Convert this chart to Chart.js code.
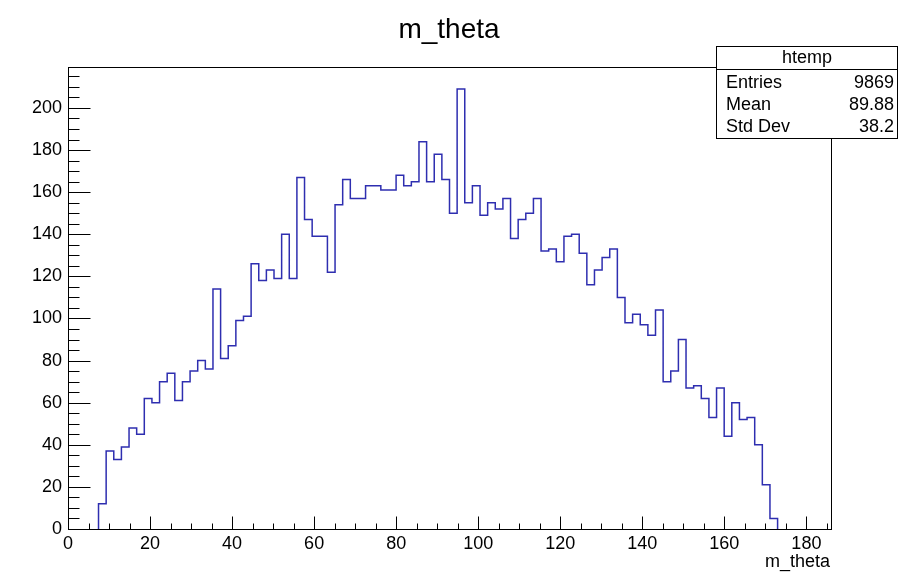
<!DOCTYPE html>
<html>
<head>
<meta charset="utf-8">
<script src="https://cdn.jsdelivr.net/npm/chart.js@4.4.1/dist/chart.umd.min.js"></script>
<style>
  html, body { margin: 0; padding: 0; background: #fff; }
  #wrap { width: 916px; height: 584px; }
</style>
</head>
<body>
<div id="wrap"><canvas id="c" width="916" height="584"></canvas></div>
<script>
// histogram: 100 bins from xMin to xMax
const histName = 'htemp';
const varName = 'm_theta';
const xMin = 0;
const xMax = 186;
const yMax = 219.45;
const counts = [
    0,   0,   0,   0,  12,  37,  33,  39,  48,  45,
   62,  60,  70,  74,  61,  70,  75,  80,  76, 114,
   81,  87,  99, 101, 126, 118, 123, 119, 140, 119,
  167, 147, 139, 139, 122, 154, 166, 157, 157, 163,
  163, 161, 161, 168, 163, 165, 184, 165, 178, 166,
  150, 209, 155, 163, 149, 155, 152, 157, 138, 147,
  150, 157, 132, 133, 127, 139, 140, 131, 116, 123,
  129, 133, 110,  98, 102,  97,  92, 104,  70,  75,
   90,  67,  68,  62,  53,  67,  44,  60,  52,  53,
   40,  21,   5,   0,   0,   0,   0,   0,   0,   0
];
const xTickStep = 20;
const yTickStep = 20;
const minorStep = 5;
const statLabels = ['Entries', 'Mean', 'Std Dev'];
const statValues = ['9869', '89.88', '38.2'];

const FONT = '"Liberation Sans", Arial, Helvetica, sans-serif';
Chart.defaults.font.family = FONT;
Chart.defaults.color = '#000';

// outline points: bin i covers [edge i, edge i+1] at counts[i]
const binWidth = (xMax - xMin) / counts.length;
const first = counts.findIndex(c => c > 0);
let last = counts.length - 1;
while (counts[last] === 0) last--;
const points = [{ x: xMin + first * binWidth, y: 0 }];
for (let i = first; i <= last; i++) points.push({ x: xMin + i * binWidth, y: counts[i] });
points.push({ x: xMin + (last + 1) * binWidth, y: 0 });

// ROOT style title, frame, inward ticks, axis title and stats box
const rootFrame = {
    id: 'rootFrame',
    afterDatasetsDraw(chart) {
        const { ctx, chartArea: a, scales: { x, y } } = chart;
        ctx.save();
        ctx.fillStyle = '#000';
        ctx.font = '28px ' + FONT;
        ctx.textAlign = 'center';
        ctx.textBaseline = 'middle';
        ctx.fillText(varName, 449, 30);

        ctx.strokeStyle = '#000';
        ctx.lineWidth = 1;
        const L = Math.round(a.left) + 0.5, R = Math.round(a.right) + 0.5;
        const T = Math.round(a.top) + 0.5, B = Math.round(a.bottom) + 0.5;
        ctx.strokeRect(L, T, R - L, B - T);

        ctx.beginPath();
        for (let v = 0; v <= yMax; v += minorStep) {
            const py = Math.round(y.getPixelForValue(v)) + 0.5;
            const len = v % yTickStep === 0 ? 22 : 11;
            ctx.moveTo(L, py);
            ctx.lineTo(L + len, py);
        }
        for (let v = xMin; v <= xMax; v += minorStep) {
            const px = Math.round(x.getPixelForValue(v)) + 0.5;
            const len = v % xTickStep === 0 ? 13 : 6;
            ctx.moveTo(px, B);
            ctx.lineTo(px, B - len);
        }
        ctx.stroke();

        ctx.font = '18px ' + FONT;
        ctx.textAlign = 'right';
        ctx.fillText(varName, a.right - 1, 562);

        // stats box
        const bx = 716.5, by = 46.5, bw = 181, bh = 92;
        ctx.fillStyle = '#fff';
        ctx.fillRect(bx, by, bw, bh);
        ctx.strokeRect(bx, by, bw, bh);
        ctx.beginPath();
        ctx.moveTo(bx, 69.5);
        ctx.lineTo(bx + bw, 69.5);
        ctx.stroke();
        ctx.fillStyle = '#000';
        ctx.textAlign = 'center';
        ctx.fillText(histName, bx + bw / 2, 58);
        statLabels.forEach((lab, i) => {
            const ty = 83 + i * 22;
            ctx.textAlign = 'left';
            ctx.fillText(lab, 726, ty);
            ctx.textAlign = 'right';
            ctx.fillText(statValues[i], 894, ty);
        });
        ctx.restore();
    }
};

new Chart(document.getElementById('c'), {
    type: 'line',
    data: {
        datasets: [{
            label: histName,
            data: points,
            stepped: 'before',
            borderColor: '#2e2eb0',
            borderWidth: 1.5,
            pointRadius: 0,
            fill: false
        }]
    },
    options: {
        animation: false,
        responsive: false,
        layout: { padding: { left: 0, right: 85, top: 67, bottom: 0 } },
        plugins: {
            legend: { display: false },
            tooltip: { enabled: false },
            title: { display: false }
        },
        scales: {
            x: {
                type: 'linear',
                min: xMin,
                max: xMax,
                grid: { display: false, drawTicks: false },
                border: { display: false },
                ticks: {
                    stepSize: xTickStep,
                    includeBounds: false,
                    autoSkip: false,
                    maxRotation: 0,
                    padding: 4,
                    font: { size: 18 },
                    callback: v => (v % xTickStep === 0 ? String(v) : '')
                },
                afterFit: s => { s.height = 55; }
            },
            y: {
                type: 'linear',
                min: 0,
                max: yMax,
                grid: { display: false, drawTicks: false },
                border: { display: false },
                ticks: {
                    stepSize: yTickStep,
                    includeBounds: false,
                    autoSkip: false,
                    padding: 6,
                    font: { size: 18 },
                    callback: v => (v % yTickStep === 0 ? String(v) : '')
                },
                afterFit: s => { s.width = 68; }
            }
        }
    },
    plugins: [rootFrame]
});
</script>
</body>
</html>
